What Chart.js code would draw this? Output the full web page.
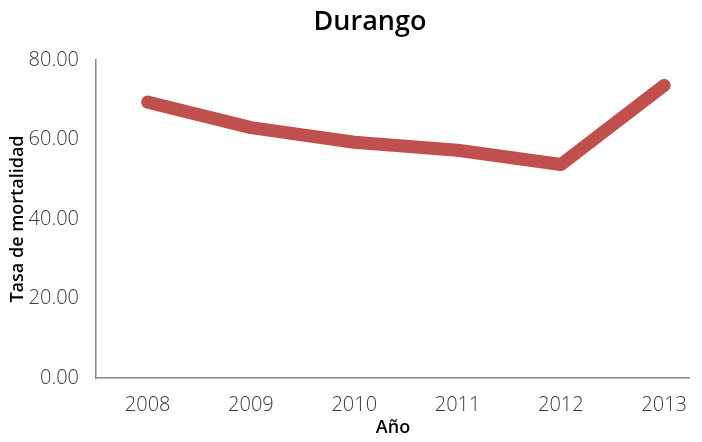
<!DOCTYPE html>
<html>
<head>
<meta charset="utf-8">
<script src="https://cdn.jsdelivr.net/npm/chart.js@4"></script>
<style>
  html, body { margin: 0; padding: 0; background: #fff; }
  #wrap { width: 702px; height: 442px; }
</style>
</head>
<body>
<div id="wrap"><canvas id="chart"></canvas></div>
<script>
// Durango - tasa de mortalidad por año
const years = [2008, 2009, 2010, 2011, 2012, 2013];
const rates = [69.4, 63.0, 59.3, 57.3, 53.7, 73.6];
const yTicks = [0, 20, 40, 60, 80];

const titleText = 'Durango';
const fontFam = '"Open Sans", Lato, sans-serif';

// title is drawn by hand: in the reference it is not centred on the plot area
const titlePlugin = {
    id: 'manualTitle',
    afterDraw(chart) {
        const ctx = chart.ctx;
        ctx.save();
        ctx.font = '600 27px ' + fontFam;
        ctx.fillStyle = '#000';
        ctx.textAlign = 'center';
        ctx.textBaseline = 'middle';
        ctx.fillText(titleText, 370, 22);
        ctx.restore();
    }
};

new Chart(document.getElementById('chart'), {
    type: 'line',
    data: {
        datasets: [{
            data: years.map((y, i) => ({ x: y, y: rates[i] })),
            borderColor: '#C0504D',
            borderWidth: 13,
            borderCapStyle: 'round',
            borderJoinStyle: 'round',
            pointRadius: 0,
            tension: 0,
            fill: false
        }]
    },
    options: {
        responsive: true,
        maintainAspectRatio: false,
        animation: false,
        layout: { padding: { top: 60, left: 0, right: 0, bottom: 0 } },
        plugins: {
            legend: { display: false },
            title: { display: false },
            tooltip: { enabled: false }
        },
        scales: {
            x: {
                type: 'linear',
                min: 2007.5,
                max: 2013.25,
                afterBuildTicks: (scale) => { scale.ticks = years.map(v => ({ value: v })); },
                afterFit: (scale) => { scale.height = 64; },
                grid: { display: false, drawTicks: false },
                border: { color: '#868686', width: 1.5 },
                ticks: {
                    padding: 15,
                    color: '#3a3a3a',
                    font: { family: fontFam, size: 20, weight: 300 },
                    callback: (v) => String(v)
                },
                title: {
                    display: true,
                    text: 'Año',
                    color: '#000',
                    font: { family: fontFam, size: 18, weight: 600 },
                    padding: { top: 0, bottom: 3 }
                }
            },
            y: {
                min: 0,
                max: 80,
                afterBuildTicks: (scale) => { scale.ticks = yTicks.map(v => ({ value: v })); },
                afterFit: (scale) => { scale.width = 96; },
                grid: { display: false, drawTicks: false },
                border: { color: '#868686', width: 1.5 },
                ticks: {
                    padding: 17,
                    color: '#3a3a3a',
                    font: { family: fontFam, size: 20, weight: 300 },
                    callback: (v) => v.toFixed(2)
                },
                title: {
                    display: true,
                    text: 'Tasa de mortalidad',
                    color: '#000',
                    font: { family: fontFam, size: 18, weight: 600 },
                    padding: { top: 7, bottom: 0 }
                }
            }
        }
    },
    plugins: [titlePlugin]
});
</script>
</body>
</html>
